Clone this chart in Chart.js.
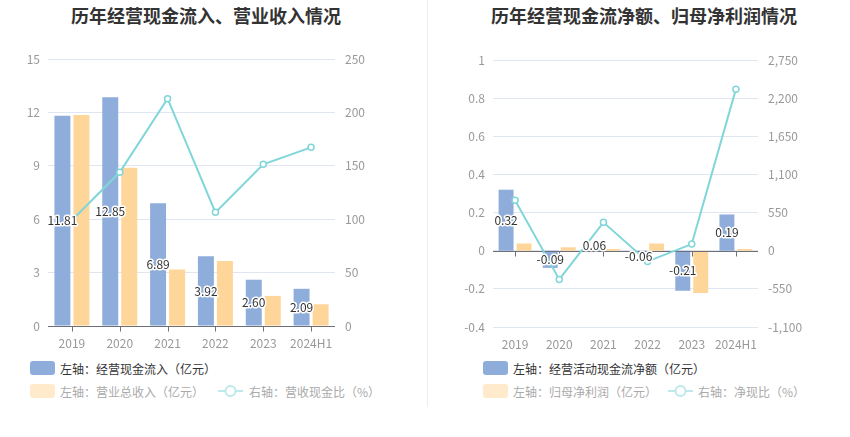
<!DOCTYPE html>
<html>
<head>
<meta charset="utf-8">
<script src="https://cdn.jsdelivr.net/npm/chart.js@4.4.1/dist/chart.umd.min.js"></script>
<style>
  body { margin: 0; width: 850px; height: 437px; background: #fff; position: relative; overflow: hidden;
         font-family: "Noto Sans CJK SC", sans-serif; }
  .title { position: absolute; top: 3px; font-size: 18px; font-weight: bold; color: #333; white-space: nowrap;
           transform: translateX(-50%); line-height: 24px; }
  .panel { position: absolute; top: 0; width: 425px; height: 360px; }
  .divider { position: absolute; left: 427px; top: 0; width: 1px; height: 407px; background: #eee; }
  .leg { position: absolute; height: 14px; display: flex; align-items: center; font-size: 12px; white-space: nowrap; }
  .sq { width: 25px; height: 14px; border-radius: 3px; margin-right: 5px; }
</style>
</head>
<body>
<div class="title" style="left:206px">历年经营现金流入、营业收入情况</div>
<div class="title" style="left:644px">历年经营现金流净额、归母净利润情况</div>
<div class="panel" style="left:0"><canvas id="cashChart" width="425" height="360"></canvas></div>
<div class="panel" style="left:425px"><canvas id="netChart" width="425" height="360"></canvas></div>
<div class="divider"></div>

<div class="leg" style="left:30px; top:361px; color:#333"><div class="sq" style="background:#8EADDB"></div>左轴：经营现金流入（亿元）</div>
<div class="leg" style="left:30px; top:384px; color:#aaa"><div class="sq" style="background:#FFEBCC"></div>左轴：营业总收入（亿元）</div>
<div class="leg" style="left:218px; top:384px; color:#aaa">
  <svg width="25" height="14" style="margin-right:6px"><line x1="0" y1="7" x2="25" y2="7" stroke="#BDE9EA" stroke-width="2"/><circle cx="12.5" cy="7" r="5" fill="#fff" stroke="#BDE9EA" stroke-width="2"/></svg>右轴：营收现金比（%）</div>

<div class="leg" style="left:483px; top:361px; color:#333"><div class="sq" style="background:#8EADDB"></div>左轴：经营活动现金流净额（亿元）</div>
<div class="leg" style="left:483px; top:384px; color:#aaa"><div class="sq" style="background:#FFEBCC"></div>左轴：归母净利润（亿元）</div>
<div class="leg" style="left:668px; top:384px; color:#aaa">
  <svg width="25" height="14" style="margin-right:5px"><line x1="0" y1="7" x2="25" y2="7" stroke="#BDE9EA" stroke-width="2"/><circle cx="12.5" cy="7" r="5" fill="#fff" stroke="#BDE9EA" stroke-width="2"/></svg>右轴：净现比（%）</div>

<script>
// Data
const years = ['2019', '2020', '2021', '2022', '2023', '2024H1'];

const cashInflow = [11.81, 12.85, 6.89, 3.92, 2.60, 2.09];
const revenue = [11.85, 8.89, 3.18, 3.65, 1.69, 1.22];
const cashRevenueRatio = [99.0, 143.9, 212.8, 106.4, 151.4, 167.3];

const netCashFlow = [0.32, -0.09, 0.006, -0.006, -0.21, 0.19];
const netCashFlowLabels = ['0.32', '-0.09', '0.06', '-0.06', '-0.21', '0.19'];
const netProfit = [0.038, 0.018, 0.009, 0.038, -0.222, 0.009];
const netCashRatio = [727, -414, 409, -154, 96, 2330];

const BLUE = '#8EADDB';
const ORANGE = '#FFD699';
const CYAN = '#80D6D8';

Chart.defaults.font.family = '"Noto Sans CJK SC", sans-serif';
Chart.defaults.font.size = 12;

// zero axis line (drawn before the line dataset) + value labels on blue bars
const barDecor = {
    id: 'barDecor',
    beforeDatasetDraw(chart, args, opts) {
        if (args.index !== 0) return;
        const { ctx, chartArea, scales: { x, y } } = chart;
        const y0 = Math.round(y.getPixelForValue(0)) + 0.5;
        ctx.save();
        ctx.strokeStyle = '#6E7079';
        ctx.lineWidth = 1;
        ctx.beginPath();
        ctx.moveTo(chartArea.left, y0);
        ctx.lineTo(chartArea.right, y0);
        years.forEach((_, i) => {
            const px = Math.round(x.getPixelForValue(i)) + 0.5;
            ctx.moveTo(px, y0);
            ctx.lineTo(px, y0 + 5);
        });
        ctx.stroke();
        ctx.restore();
    },
    afterDatasetsDraw(chart, args, opts) {
        const { ctx, scales: { y } } = chart;
        const meta = chart.getDatasetMeta(opts.dataset);
        const y0 = y.getPixelForValue(0);
        ctx.save();
        ctx.font = '12px "Noto Sans CJK SC", sans-serif';
        ctx.textAlign = 'center';
        ctx.textBaseline = 'middle';
        ctx.lineJoin = 'round';
        meta.data.forEach((bar, i) => {
            const text = opts.labels[i];
            const yc = (y.getPixelForValue(parseFloat(text)) + y0) / 2;
            ctx.strokeStyle = '#fff';
            ctx.lineWidth = 3;
            ctx.strokeText(text, bar.x, yc);
            ctx.fillStyle = '#333';
            ctx.fillText(text, bar.x, yc);
        });
        ctx.restore();
    }
};

function makeChart(id, cfg) {
    return new Chart(document.getElementById(id).getContext('2d'), {
        type: 'bar',
        data: {
            labels: years,
            datasets: [{
                type: 'line',
                data: cfg.line,
                yAxisID: 'y1',
                borderColor: CYAN,
                borderWidth: 2,
                tension: 0,
                pointRadius: 3,
                pointBorderWidth: 1.5,
                pointBackgroundColor: '#fff',
                pointBorderColor: CYAN,
                order: 0
            }, {
                data: cfg.blue,
                yAxisID: 'y',
                backgroundColor: BLUE,
                categoryPercentage: cfg.catPct,
                barPercentage: cfg.barPct,
                order: 1
            }, {
                data: cfg.orange,
                yAxisID: 'y',
                backgroundColor: ORANGE,
                categoryPercentage: cfg.catPct,
                barPercentage: cfg.barPct,
                order: 2
            }]
        },
        options: {
            responsive: false,
            animation: false,
            layout: { padding: { top: cfg.top, left: 0, right: 0, bottom: 10 } },
            scales: {
                x: {
                    grid: { display: false },
                    border: { display: false },
                    ticks: { color: '#999', padding: 2, autoSkip: false, maxRotation: 0 },
                    afterFit(scale) { scale.height = cfg.xHeight; }
                },
                y: {
                    position: 'left',
                    min: cfg.yMin, max: cfg.yMax,
                    ticks: {
                        stepSize: cfg.yStep, color: '#999', padding: 8,
                        callback: v => String(parseFloat(v.toFixed(2)))
                    },
                    grid: { color: '#E0E6F1', drawTicks: false },
                    border: { display: false },
                    afterFit(scale) { scale.width = cfg.leftW; }
                },
                y1: {
                    position: 'right',
                    min: cfg.y1Min, max: cfg.y1Max,
                    ticks: {
                        stepSize: cfg.y1Step, color: '#999', padding: 10,
                        callback: v => v.toLocaleString('en-US')
                    },
                    grid: { display: false, drawTicks: false },
                    border: { display: false },
                    afterFit(scale) { scale.width = cfg.rightW; }
                }
            },
            plugins: {
                legend: { display: false },
                tooltip: { enabled: false },
                barDecor: { dataset: 1, labels: cfg.labels }
            }
        },
        plugins: [barDecor]
    });
}

makeChart('cashChart', {
    line: cashRevenueRatio, blue: cashInflow, orange: revenue,
    labels: cashInflow.map(v => v.toFixed(2)),
    catPct: 0.795, barPct: 0.84,
    top: 59, xHeight: 24, leftW: 48, rightW: 90,
    yMin: 0, yMax: 15, yStep: 3, y1Min: 0, y1Max: 250, y1Step: 50
});

makeChart('netChart', {
    line: netCashRatio, blue: netCashFlow, orange: netProfit,
    labels: netCashFlowLabels,
    catPct: 0.815, barPct: 0.83,
    top: 60, xHeight: 23, leftW: 68, rightW: 92,
    yMin: -0.4, yMax: 1, yStep: 0.2, y1Min: -1100, y1Max: 2750, y1Step: 550
});
</script>
</body>
</html>
